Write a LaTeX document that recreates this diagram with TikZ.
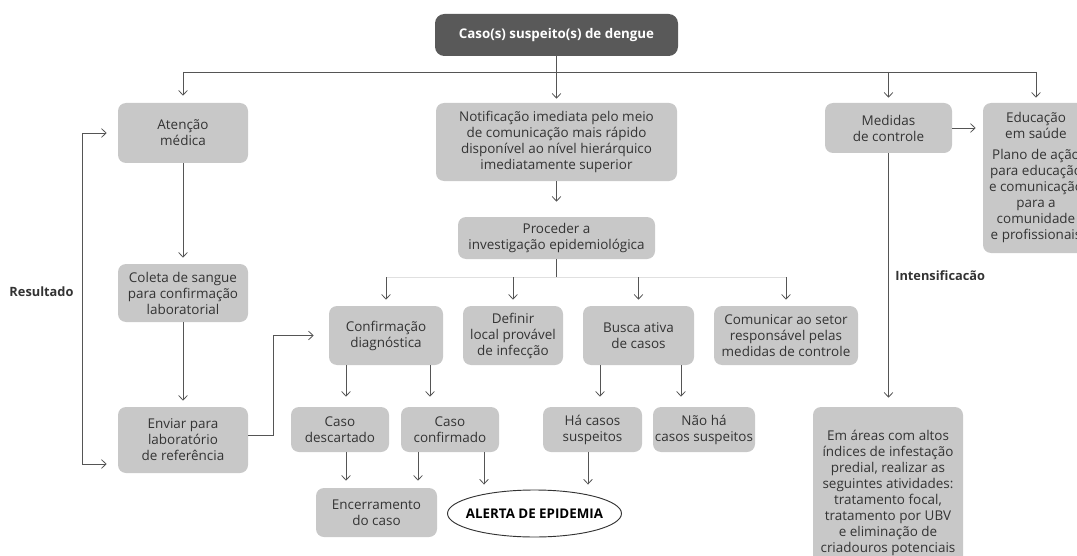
\documentclass[tikz,border=0pt]{standalone}
\usepackage{fontspec}
\setmainfont{Open Sans}
\usetikzlibrary{arrows.meta,calc,shapes.geometric}
\definecolor{boxgray}{HTML}{C8C8C8}
\definecolor{darkbox}{HTML}{595959}
\definecolor{txtgray}{HTML}{333333}
\definecolor{linegray}{HTML}{555555}
\definecolor{faintgray}{HTML}{E0E0E0}
\newlength\pxu
\setlength\pxu{0.75pt}
\begin{document}
\begin{tikzpicture}[x=0.75pt,y=-0.75pt,
  box/.style={fill=boxgray,rounded corners=6pt,align=center,text=txtgray,
    font=\fontsize{10.1}{12}\selectfont,inner sep=0pt},
  topbox/.style={fill=darkbox,rounded corners=7pt,align=center,text=white,
    font=\fontsize{10}{12}\selectfont\bfseries,inner sep=0pt},
  lbl/.style={text=txtgray,font=\fontsize{9.6}{12}\selectfont\bfseries,inner sep=0pt},
  wire/.style={draw=linegray,line width=0.6pt},
  faintline/.style={draw=faintgray,line width=0.6pt},
  tipbarb/.tip={Straight Barb[length=3.5pt,width=6.5pt]},
  arr/.style={wire,-tipbarb,shorten >=4.5pt}]
\useasboundingbox (0,0) rectangle (1077,556);
\clip (0,0) rectangle (1077,556);

% nodes
\node[topbox,minimum width=243\pxu,minimum height=42\pxu] (top) at (556.5,35) {Caso(s) suspeito(s) de dengue};
\node[box,minimum width=130\pxu,minimum height=60\pxu] (aten) at (183,133) {Atenção\\médica};
\node[box,minimum width=241\pxu,minimum height=78\pxu] (notif) at (556.5,142) {Notificação imediata pelo meio\\de comunicação mais rápido\\disponível ao nível hierárquico\\imediatamente superior};
\node[box,minimum width=127\pxu,minimum height=50\pxu] (medidas) at (888.5,128) {Medidas\\de controle};
\node[box,minimum width=106\pxu,minimum height=150\pxu] (educ) at (1036,178) {Educação\\em saúde\\[5\pxu]Plano de ação\\para educação\\e comunicação\\para a\\comunidade\\e profissionais};
\node[box,minimum width=130\pxu,minimum height=58\pxu] (coleta) at (183,293) {Coleta de sangue\\para confirmação\\laboratorial};
\node[box,minimum width=197\pxu,minimum height=42\pxu] (proc) at (556.5,238) {Proceder a\\investigação epidemiológica};
\node[box,minimum width=114\pxu,minimum height=59\pxu] (conf) at (386,335.5) {Confirmação\\diagnóstica};
\node[box,minimum width=100\pxu,minimum height=59\pxu] (defin) at (513,335.5) {Definir\\local provável\\de infecção};
\node[box,minimum width=111\pxu,minimum height=59\pxu] (busca) at (638.5,335.5) {Busca ativa\\de casos};
\node[box,minimum width=144\pxu,minimum height=59\pxu] (comun) at (786,335.5) {Comunicar ao setor\\responsável pelas\\medidas de controle};
\node[box,minimum width=130\pxu,minimum height=66\pxu] (enviar) at (183,440) {Enviar para\\laboratório\\de referência};
\node[box,minimum width=98\pxu,minimum height=45\pxu] (desc) at (340,429.5) {Caso\\descartado};
\node[box,minimum width=98\pxu,minimum height=45\pxu] (confd) at (450,429.5) {Caso\\confirmado};
\node[box,minimum width=99\pxu,minimum height=45\pxu] (ha) at (592.5,429.5) {Há casos\\suspeitos};
\node[box,minimum width=102\pxu,minimum height=45\pxu] (nao) at (704,429.5) {Não há\\casos suspeitos};
\node[box,minimum width=150\pxu,minimum height=171\pxu] (emareas) at (888,492.5) {Em áreas com altos\\índices de infestação\\predial, realizar as\\seguintes atividades:\\tratamento focal,\\tratamento por UBV\\e eliminação de\\criadouros potenciais};
\node[box,minimum width=121\pxu,minimum height=49\pxu] (enc) at (376.5,512.5) {Encerramento\\do caso};
\node[ellipse,draw=txtgray,line width=0.7pt,fill=white,minimum width=173\pxu,minimum height=47\pxu,
  inner xsep=-7\pxu,inner ysep=0pt,
  text=black,font=\fontsize{10}{12}\selectfont\bfseries] (alerta) at (534.5,513.5) {ALERTA DE EPIDEMIA};
\node[lbl] (result) at (41.5,292) {Resultado};
\begin{scope}
  \clip (885,262) rectangle (1000,279.5);
  \node[lbl,anchor=base west] (intens) at (895,280) {Intensificação};
\end{scope}

% helper coordinates
\coordinate (hl) at (0,72);
\coordinate (bl) at (0,277);
\coordinate (x1) at (346,0);
\coordinate (x2) at (430,0);
\coordinate (x3) at (600,0);
\coordinate (x4) at (681,0);
\coordinate (x5) at (418,0);
\coordinate (x6) at (484,0);
\coordinate (x7) at (588,0);

% top distribution
\draw[wire] (hl -| aten) -- (hl -| educ);
\draw[arr,shorten >=3pt] (top) -- (notif);
\draw[arr,shorten >=5.25pt] (hl -| aten) -- (aten);
\draw[arr,shorten >=3.75pt] (hl -| medidas) -- (medidas);
\draw[arr,shorten >=3.75pt] (hl -| educ) -- (educ);

% left column
\draw[arr] (aten) -- (coleta);
\draw[arr] (coleta) -- (enviar);
\draw[wire,tipbarb-tipbarb,shorten <=8.25pt,shorten >=8.25pt]
  (aten.west) -- ++(-35,0) |- ($(enviar.west)+(0,24)$);
\draw[arr,shorten >=11.25pt] ($(enviar.east)+(0,-5)$) -- ++(25,0) |- (conf.west);

% centre column
\draw[arr,shorten >=11.25pt] (notif) -- (proc);
\draw[wire] (proc) -- (proc |- bl);
\draw[faintline] (bl -| conf) -- (bl -| comun);
\draw[arr] (bl -| conf) -- (conf);
\draw[arr] (bl -| defin) -- (defin);
\draw[arr] (bl -| busca) -- (busca);
\draw[arr] (bl -| comun) -- (comun);

\draw[arr,shorten >=7.5pt] (conf.south -| x1) -- (desc.north -| x1);
\draw[arr,shorten >=7.5pt] (conf.south -| x2) -- (confd.north -| x2);
\draw[arr,shorten >=7.5pt] (busca.south -| x3) -- (ha.north -| x3);
\draw[arr,shorten >=7.5pt] (busca.south -| x4) -- (nao.north -| x4);
\draw[arr,shorten >=5.25pt] (desc.south -| x1) -- (enc.north -| x1);
\draw[arr,shorten >=5.25pt] (confd.south -| x5) -- (enc.north -| x5);
\draw[arr,shorten >=3.75pt] (confd.south -| x6) -- (alerta.north -| x6);
\draw[arr,shorten >=3.75pt] (ha.south -| x7) -- (alerta.north -| x7);

% right column
\draw[arr,shorten >=5.25pt] (medidas.east) -- (medidas.east -| educ.west);
\draw[arr,shorten >=6.75pt] (medidas.south) -- (medidas.south |- emareas.north);
\end{tikzpicture}
\end{document}
